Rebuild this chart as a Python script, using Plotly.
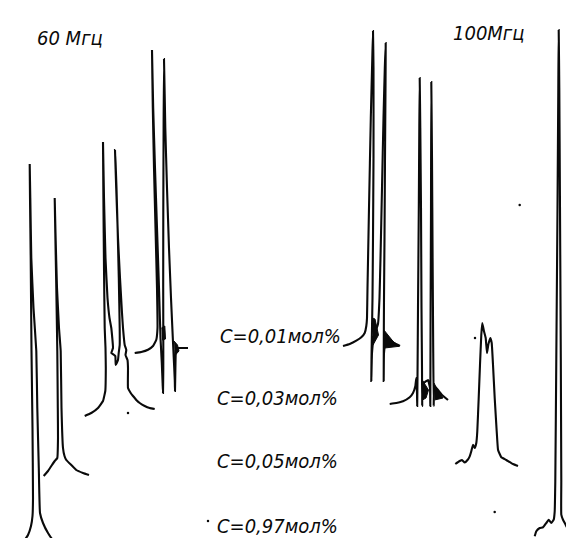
import plotly.graph_objects as go

# ---- 60 MHz spectra (pixel-space coordinates) ----
s60_097_x = [13, 16, 20, 23, 24.5, 25, 24.5, 23.5, 22.7, 22, 21.7, 22.3, 23.3, 25.5, 28.3, 29.3, 30.8, 32, 35, 40, 45, 48, 50]
s60_097_y = [537, 533, 527, 518, 508, 490, 420, 343, 250, 190, 156, 190, 250, 300, 343, 400, 460, 505, 515, 525, 532, 534, 535]

s60_005_x = [35.7, 40, 43.3, 46.7, 49.3, 50, 49.8, 49.3, 48.3, 47.3, 46.7, 47.5, 49, 51, 52.7, 53.5, 55, 56.5, 58.3, 63.3, 68.3, 75, 81]
s60_005_y = [468, 463, 458, 453, 450, 430, 400, 343, 280, 225, 190, 225, 280, 320, 343, 400, 440, 448, 452, 457, 462, 465, 467]

s60_003_x = [76.7, 83.3, 90, 95, 97.3, 97.8, 97.5, 96.7, 96, 95.4, 95, 96, 97.5, 99.5, 101.5, 103.3, 105, 103.3, 107.3, 107.7, 110, 110.7, 111.7, 111.7, 110.8, 109.6, 108.5, 107.6, 107, 108.2, 110, 112, 114, 115, 116.7, 118.3, 117.5, 119.5, 120, 120, 122.7, 125, 128.3, 131.7, 136.7, 141.7, 146.7]
s60_003_y = [408, 405, 400, 393, 383, 360, 340, 320, 260, 190, 134, 190, 250, 290, 310, 320, 340, 345, 348, 357, 352, 345, 337, 320, 270, 220, 180, 155, 142, 180, 230, 270, 305, 320, 337, 342, 347, 352, 360, 380, 385, 388, 392, 395, 398, 400, 401]

s60_001_x = [126.7, 133.3, 140, 145, 148.3, 149.5, 149, 147.5, 146, 144.8, 144, 145.2, 147, 149, 151, 152.5, 153.8, 154.6, 155, 155.3, 155.3, 155.2, 155.3, 155.6, 156, 157.3, 159, 161, 163, 164.8, 166, 166.8, 167, 167.4, 168, 170, 175, 180]
s60_001_y = [345, 344, 341.7, 338, 331.7, 320, 280, 220, 160, 100, 42, 100, 160, 220, 280, 330, 355, 375, 385, 360, 330, 280, 200, 120, 51, 120, 180, 240, 290, 330, 355, 373, 383, 360, 342, 340, 340, 340]

# ---- 100 MHz spectra ----
s100_001_x = [335, 341.7, 348.3, 353.3, 356.7, 358.3, 359, 359.5, 361, 362.8, 364.3, 365, 365.5, 365.5, 365, 364.5, 364, 363.5, 363.3, 364, 366, 368, 370, 371.5, 372.5, 374, 375.5, 376.8, 377.7, 377.5, 377, 376.5, 376, 375.8, 375.7, 376, 378, 382, 386, 392]
s100_001_y = [338, 336, 332.7, 329.3, 325, 318, 310, 280, 200, 110, 50, 23, 60, 150, 230, 290, 320, 350, 373, 345, 328, 322, 316, 290, 250, 180, 110, 60, 35, 80, 150, 230, 290, 330, 373, 345, 330, 332, 335, 338]

s100_003_x = [381.7, 388.3, 395, 401.7, 405, 407.3, 408.3, 409, 409.2, 409.5, 410, 410.8, 411.3, 411.7, 412.3, 413, 413.5, 414, 414.2, 414.6, 417, 420, 422, 422.3, 422.4, 422.6, 423, 423.3, 424, 424.6, 425.2, 425.7, 426.3, 430, 434, 440]
s100_003_y = [396, 395, 393.3, 389.3, 385, 378.3, 370, 385, 398, 370, 300, 200, 120, 70, 120, 200, 300, 360, 398, 375, 374, 372, 380, 398, 370, 300, 200, 74, 150, 250, 340, 398, 378, 382, 387, 392]

s100_005_x = [447.3, 451.7, 454, 456.7, 459.5, 461.7, 463.3, 465, 466.7, 468.3, 469.3, 470.7, 472, 473.3, 474.3, 476, 477.7, 479, 480.3, 482.3, 483.7, 485, 486.7, 488.7, 490, 491.7, 493.3, 498.3, 505, 510]
s100_005_y = [456, 453, 452, 454.5, 452, 448.3, 443.3, 436.7, 440, 435, 423.3, 390, 356.7, 326.7, 315, 323.3, 330, 345, 336.7, 330, 335, 356.7, 390, 423.3, 441.7, 446, 449.3, 452, 456, 458]

s100_097_x = [526.7, 528.3, 531.7, 535, 538.3, 540.7, 543.3, 545.7, 546.7, 547.3, 548.3, 549.5, 550.3, 550.7, 551.3, 552, 552.8, 553.3, 553.3, 555, 557.3, 559.3, 561.7, 563.3, 566, 570, 572.7]
s100_097_y = [528.3, 523.3, 520, 519.3, 515, 511.7, 515, 511.7, 503.3, 473.3, 350, 200, 80, 22, 80, 200, 350, 473.3, 506.7, 511.7, 516, 520, 516.7, 518.3, 523.3, 527.3, 529.3]

# ringing "blobs" (filled wedges)
blob_a_x = [153.5, 156.8, 157.5, 154]
blob_a_y = [320, 318, 331, 332]
blob_b_x = [166, 169.5, 171, 166.5]
blob_b_y = [333, 337, 343, 348]
blob_c_x = [364.5, 367, 370.5, 365]
blob_c_y = [310, 311, 327, 337]
blob_d_x = [375.7, 380, 385, 391, 376.7]
blob_d_y = [321.7, 326.7, 333.3, 338.3, 340]
blob_e_x = [414.3, 417, 420.5, 418, 414.5]
blob_e_y = [372, 376, 382, 390, 392]
blob_f_x = [426, 429, 435, 426.5]
blob_f_y = [375, 381, 390, 392]

# stray specks of the scan
speck_x = [120, 467, 511.7, 486.7, 200]
speck_y = [405, 330, 197, 504, 513]

# texts
freq_labels = ["60 Мгц", "100Мгц"]
freq_x = [27, 443]
freq_y = [30, 25]
conc_labels = ["C=0,01мол%", "C=0,03мол%", "C=0,05мол%", "C=0,97мол%"]
conc_x = [210, 207, 207, 207]
conc_y = [328, 390, 453, 518]

INK = "#0a0a0a"
fig = go.Figure()

for xs, ys in [(s60_097_x, s60_097_y), (s60_005_x, s60_005_y), (s60_003_x, s60_003_y),
               (s60_001_x, s60_001_y), (s100_001_x, s100_001_y), (s100_003_x, s100_003_y),
               (s100_005_x, s100_005_y), (s100_097_x, s100_097_y)]:
    fig.add_trace(go.Scatter(x=xs, y=ys, mode="lines",
                             line=dict(color=INK, width=2.1, shape="spline", smoothing=0.3),
                             hoverinfo="skip", showlegend=False))

for xs, ys in [(blob_a_x, blob_a_y), (blob_b_x, blob_b_y), (blob_c_x, blob_c_y),
               (blob_d_x, blob_d_y), (blob_e_x, blob_e_y), (blob_f_x, blob_f_y)]:
    fig.add_trace(go.Scatter(x=xs, y=ys, mode="lines", fill="toself", fillcolor=INK,
                             line=dict(color=INK, width=1), hoverinfo="skip", showlegend=False))

fig.add_trace(go.Scatter(x=speck_x, y=speck_y, mode="markers",
                         marker=dict(color=INK, size=2.5), hoverinfo="skip", showlegend=False))

FONT = "DejaVu Sans Condensed, Liberation Sans Narrow, DejaVu Sans, sans-serif"
for t, x, y in zip(freq_labels, freq_x, freq_y):
    fig.add_annotation(x=x, y=y, text=t, showarrow=False, xanchor="left", yanchor="middle",
                       font=dict(family=FONT, size=20, color=INK, style="italic"))
for t, x, y in zip(conc_labels, conc_x, conc_y):
    fig.add_annotation(x=x, y=y, text=t, showarrow=False, xanchor="left", yanchor="middle",
                       font=dict(family=FONT, size=20, color=INK, style="italic"))

fig.update_xaxes(range=[0, 574], visible=False, fixedrange=True)
fig.update_yaxes(range=[538, 0], visible=False, fixedrange=True)
fig.update_layout(width=574, height=538, margin=dict(l=0, r=0, t=0, b=0),
                  paper_bgcolor="white", plot_bgcolor="white", showlegend=False)

fig.write_html("out.html", config={"displayModeBar": False})
